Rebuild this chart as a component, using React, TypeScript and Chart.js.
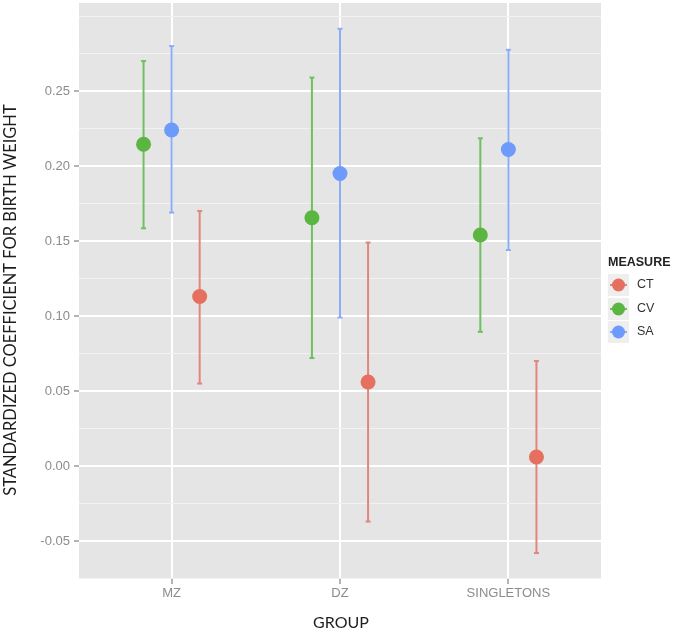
import React, { useEffect, useRef } from 'react';
import { Chart, registerables } from 'chart.js';

Chart.register(...registerables);

// ---- data ----
const groups = ['MZ', 'DZ', 'SINGLETONS'];
const measures = ['CT', 'CV', 'SA'];

const ctEstimate = [0.113, 0.056, 0.006];
const ctLower = [0.055, -0.037, -0.058];
const ctUpper = [0.170, 0.149, 0.070];

const cvEstimate = [0.2145, 0.1655, 0.154];
const cvLower = [0.1585, 0.072, 0.0895];
const cvUpper = [0.270, 0.259, 0.2185];

const saEstimate = [0.224, 0.195, 0.211];
const saLower = [0.169, 0.099, 0.144];
const saUpper = [0.280, 0.2915, 0.2775];

const yMajorTicks = [-0.05, 0, 0.05, 0.1, 0.15, 0.2, 0.25];
const yMinorTicks = [-0.075, -0.025, 0.025, 0.075, 0.125, 0.175, 0.225, 0.275, 0.3];

const xTitle = 'GROUP';
const yTitle = 'STANDARDIZED COEFFICIENT FOR BIRTH WEIGHT';
const legendTitle = 'MEASURE';

// ---- styling ----
const dodge: Record<string, number> = { CT: 1 / 6, CV: -1 / 6, SA: 0 };
const pointColors: Record<string, string> = { CT: '#E6705F', CV: '#5AB541', SA: '#6C9BFC' };
const barColors: Record<string, string> = { CT: '#E2867B', CV: '#6DC15E', SA: '#8CADF6' };

const seriesData: Record<string, { est: number[]; lo: number[]; hi: number[] }> = {
  CT: { est: ctEstimate, lo: ctLower, hi: ctUpper },
  CV: { est: cvEstimate, lo: cvLower, hi: cvUpper },
  SA: { est: saEstimate, lo: saLower, hi: saUpper },
};

const isMajor = (v: number) => yMajorTicks.some((m) => Math.abs(m - v) < 1e-9);

const panelPlugin = {
  id: 'panelBg',
  beforeDraw(chart: any) {
    const { ctx, chartArea } = chart;
    ctx.save();
    ctx.fillStyle = '#FFFFFF';
    ctx.fillRect(0, 0, chart.width, chart.height);
    ctx.fillStyle = '#E5E5E5';
    ctx.fillRect(chartArea.left, chartArea.top, chartArea.right - chartArea.left, chartArea.bottom - chartArea.top);
    ctx.restore();
  },
  afterDraw(chart: any) {
    const { ctx, chartArea } = chart;
    ctx.save();
    // axis titles
    ctx.fillStyle = '#1E1E1E';
    ctx.font = '16.5px Lato, "Open Sans", sans-serif';
    ctx.textAlign = 'center';
    ctx.textBaseline = 'middle';
    ctx.save();
    ctx.translate(11, 300);
    ctx.rotate(-Math.PI / 2);
    ctx.fillText(yTitle, 0, 0);
    ctx.restore();
    ctx.font = '16px Lato, "Open Sans", sans-serif';
    ctx.fillText(xTitle, (chartArea.left + chartArea.right) / 2 + 1, 623);

    // legend
    const lx = 608;
    ctx.fillStyle = '#222222';
    ctx.font = 'bold 12.5px "Liberation Sans", Arial, sans-serif';
    ctx.textBaseline = 'middle';
    ctx.textAlign = 'left';
    ctx.fillText(legendTitle, lx, 263);
    const rows = [285, 309, 332];
    measures.forEach((m, i) => {
      const cy = rows[i];
      ctx.fillStyle = '#EEEEEE';
      ctx.fillRect(lx, cy - 11, 21, 22);
      ctx.strokeStyle = barColors[m];
      ctx.lineWidth = 2;
      ctx.beginPath();
      ctx.moveTo(lx + 2, cy);
      ctx.lineTo(lx + 19, cy);
      ctx.stroke();
      ctx.fillStyle = pointColors[m];
      ctx.beginPath();
      ctx.arc(lx + 10.5, cy, 6.5, 0, Math.PI * 2);
      ctx.fill();
      ctx.fillStyle = '#333333';
      ctx.font = '12.5px "Liberation Sans", Arial, sans-serif';
      ctx.fillText(m, 637, cy);
    });
    ctx.restore();
  },
};

export default function App() {
  const canvasRef = useRef<HTMLCanvasElement | null>(null);

  useEffect(() => {
    document.body.style.margin = '0';
    const canvas = canvasRef.current;
    if (!canvas) return;

    const datasets: any[] = [];
    measures.forEach((m) => {
      const s = seriesData[m];
      s.est.forEach((_, i) => {
        datasets.push({
          type: 'line',
          label: m + ' interval ' + groups[i],
          data: [
            { x: i + dodge[m], y: s.lo[i] },
            { x: i + dodge[m], y: s.hi[i] },
          ],
          borderColor: barColors[m],
          borderWidth: 2,
          pointStyle: 'line',
          pointRadius: 2.5,
          pointBorderColor: barColors[m],
          pointBorderWidth: 2,
          pointHoverRadius: 2.5,
          fill: false,
          showLine: true,
          order: 2,
        });
      });
      datasets.push({
        type: 'scatter',
        label: m,
        data: s.est.map((v, i) => ({ x: i + dodge[m], y: v })),
        backgroundColor: pointColors[m],
        borderWidth: 0,
        pointRadius: 7.5,
        pointHoverRadius: 7.5,
        order: 1,
      });
    });

    const chart = new Chart(canvas, {
      type: 'scatter',
      data: { datasets },
      plugins: [panelPlugin],
      options: {
        animation: false,
        responsive: false,
        events: [],
        layout: { autoPadding: false, padding: { top: 3, right: 73, left: 0, bottom: 0 } },
        plugins: { legend: { display: false }, tooltip: { enabled: false } },
        scales: {
          x: {
            type: 'linear',
            min: -0.55,
            max: 2.55,
            afterBuildTicks: (s: any) => {
              s.ticks = groups.map((_, i) => ({ value: i }));
            },
            afterFit: (s: any) => {
              s.height = 53;
              s.paddingLeft = 0;
              s.paddingRight = 0;
            },
            ticks: {
              callback: (v: any) => groups[Math.round(Number(v))],
              color: '#8C8C8C',
              font: { family: '"Liberation Sans", Arial, sans-serif', size: 13 },
              padding: 2,
              maxRotation: 0,
              autoSkip: false,
            },
            grid: { color: '#FFFFFF', lineWidth: 2, tickLength: 5, tickColor: '#9A9A9A', tickWidth: 1.5 },
            border: { display: false },
            title: { display: false },
          },
          y: {
            type: 'linear',
            min: -0.0753,
            max: 0.3087,
            afterBuildTicks: (s: any) => {
              s.ticks = [...yMinorTicks, ...yMajorTicks].sort((a, b) => a - b).map((v) => ({ value: v }));
            },
            afterFit: (s: any) => {
              s.width = 79;
              s.paddingTop = 0;
              s.paddingBottom = 0;
            },
            ticks: {
              callback: (v: any) => (isMajor(Number(v)) ? Number(v).toFixed(2) : ''),
              color: '#8C8C8C',
              font: { family: '"Liberation Sans", Arial, sans-serif', size: 13 },
              padding: 4,
              autoSkip: false,
            },
            grid: {
              color: (c: any) => (isMajor(c.tick?.value) ? '#FFFFFF' : '#F2F2F2'),
              lineWidth: (c: any) => (isMajor(c.tick?.value) ? 2 : 1),
              tickLength: 5,
              tickColor: (c: any) => (isMajor(c.tick?.value) ? '#9A9A9A' : 'rgba(0,0,0,0)'),
              tickWidth: 1.5,
            },
            border: { display: false },
            title: { display: false },
          },
        },
      } as any,
    });

    return () => {
      chart.destroy();
    };
  }, []);

  return (
    <div style={{ width: 674, height: 632, position: 'relative' }}>
      <canvas ref={canvasRef} width={674} height={632} style={{ display: 'block', width: 674, height: 632 }} />
    </div>
  );
}
